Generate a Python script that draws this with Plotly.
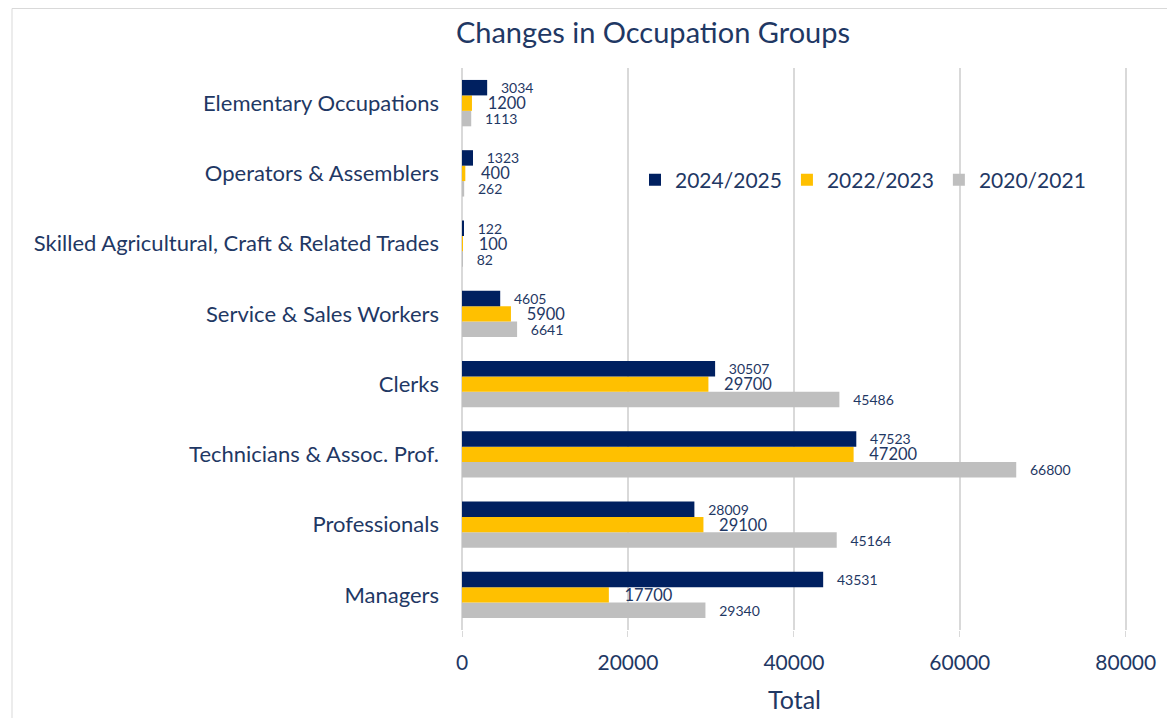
import plotly.graph_objects as go

categories = ["Managers", "Professionals", "Technicians & Assoc. Prof.", "Clerks",
              "Service & Sales Workers", "Skilled Agricultural, Craft & Related Trades",
              "Operators & Assemblers", "Elementary Occupations"]
v2024 = [43531, 28009, 47523, 30507, 4605, 122, 1323, 3034]
v2022 = [17700, 29100, 47200, 29700, 5900, 100, 400, 1200]
v2020 = [29340, 45164, 66800, 45486, 6641, 82, 262, 1113]
x_ticks = [0, 20000, 40000, 60000, 80000]

NAVY = "#002060"
TXT = "#1F3864"
FONT = "Lato, Calibri, 'Open Sans', sans-serif"
pad = "\u00a0\u00a0\u00a0"

fig = go.Figure()
series = [("2020/2021", v2020, "#BFBFBF", 14),
          ("2022/2023", v2022, "#FFC000", 16.5),
          ("2024/2025", v2024, NAVY, 14)]
for name, vals, col, fs in series:
    fig.add_trace(go.Bar(
        y=categories, x=vals, name=name, orientation="h",
        marker=dict(color=col, line=dict(width=0)),
        text=[str(v) for v in vals], texttemplate=pad + "%{text}", textposition="outside",
        textfont=dict(size=fs, color=TXT, family=FONT),
        constraintext="none", cliponaxis=False,
    ))

# plot area in figure pixels (page is offset by the 8px body margin)
XMAX = 80150
L, T, B = 454, 60, 622
R = round(L + 664 * XMAX / 80000)
W, H = 1175, 718

fig.update_layout(
    width=W, height=H,
    margin=dict(l=L, r=W - R, t=T, b=H - B, autoexpand=False),
    paper_bgcolor="white", plot_bgcolor="white",
    barmode="group", bargap=0.34, bargroupgap=0,
    font=dict(family=FONT, color=TXT),
    title=dict(text="Changes in Occupation Groups", x=645 / W, xanchor="center",
               y=1 - 25 / H, yanchor="middle", font=dict(size=29, color=TXT, family=FONT)),
    legend=dict(orientation="h", traceorder="reversed", x=(627 - L) / (R - L), y=(B - 172) / (B - T),
                xanchor="left", yanchor="middle",
                font=dict(size=21, color=TXT, family=FONT),
                bgcolor="rgba(0,0,0,0)", itemwidth=30),
    xaxis=dict(range=[0, XMAX], tickvals=x_ticks, ticktext=[str(t) for t in x_ticks],
               showgrid=True, gridcolor="#D9D9D9", gridwidth=2, zeroline=True,
               zerolinecolor="#D9D9D9", zerolinewidth=2, showline=False,
               ticks="outside", ticklen=6, tickcolor="#D9D9D9", ticklabelstandoff=8,
               tickfont=dict(size=21, color=TXT, family=FONT), automargin=False,
               title=dict(text="Total", font=dict(size=25, color=TXT, family=FONT), standoff=18)),
    yaxis=dict(showgrid=False, ticks="", ticklabelstandoff=22, automargin=False,
               tickfont=dict(size=22, color=TXT, family=FONT), showline=False),
)

fig.add_shape(type="rect", xref="paper", yref="paper",
              x0=(4 - L) / (R - L), x1=1.2,
              y0=-0.2, y1=(B - 0.5) / (B - T),
              line=dict(color="#D9D9D9", width=1), fillcolor="rgba(0,0,0,0)", layer="below")

fig.write_html("out.html")
